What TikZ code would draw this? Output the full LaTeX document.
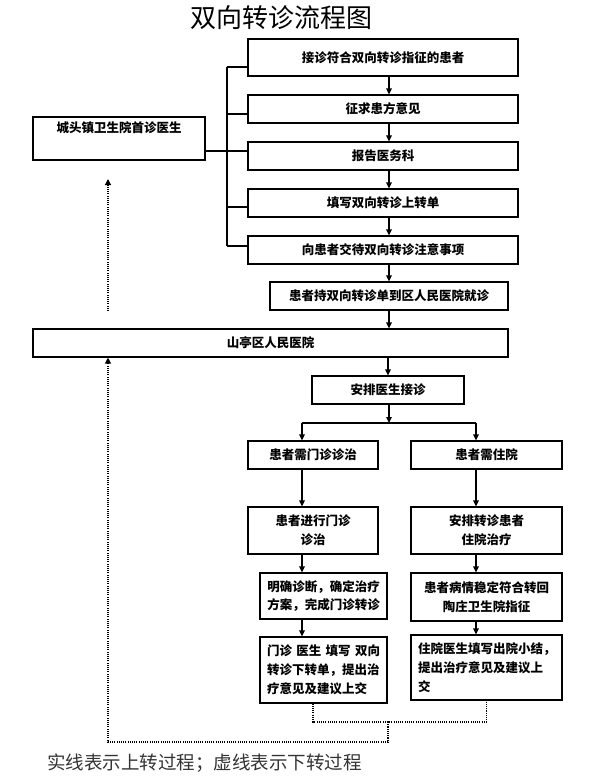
\documentclass[tikz,border=0pt]{standalone}
\usepackage{fontspec}
\setmainfont{Noto Sans CJK SC}
\usetikzlibrary{arrows.meta}
\begin{document}
\begin{tikzpicture}[x=1pt,y=-1pt,
  box/.style={draw, line width=1.1pt, inner sep=0pt, align=center,
    font=\bfseries\fontsize{12.5}{19}\selectfont},
  arr/.style={line width=1.3pt, -{Triangle[length=6pt,width=5.5pt]}},
  lnk/.style={line width=1.1pt},
  branch/.style={line width=2.3pt},
  dot/.style={line width=1.1pt, dash pattern=on 1.1pt off 1.1pt},
  dotarr/.style={dot, -{Triangle[length=6pt,width=6pt]}}]
\useasboundingbox (0,0) rectangle (595,782);
% title
\node[font=\fontsize{26}{26}\selectfont] (title) at (281,18) {双向转诊流程图};
% upper chain
\node[box, minimum width=270, minimum height=37] (b1) at (383,57.5) {接诊符合双向转诊指征的患者};
\node[box, minimum width=270, minimum height=28] (b2) at (383,109) {征求患方意见};
\node[box, minimum width=270, minimum height=28] (b3) at (383,156) {报告医务科};
\node[box, minimum width=270, minimum height=28] (b4) at (383,203) {填写双向转诊上转单};
\node[box, minimum width=270, minimum height=28] (b5) at (383,250) {向患者交待双向转诊注意事项};
\node[box, minimum width=238, minimum height=28] (b6) at (389,296) {患者持双向转诊单到区人民医院就诊};
\node[box, minimum width=475, minimum height=28] (hosp) at (270.5,343) {山亭区人民医院};
\node[box, minimum width=152, minimum height=28] (arrange) at (388,390) {安排医生接诊};
% township box
\node[box, minimum width=172, inner ysep=3pt, text height=12.5pt, text depth=24.5pt] (ctz) at (119,138.5) {城头镇卫生院首诊医生};
% two columns
\node[box, minimum width=130, minimum height=28] (L1) at (313,455) {患者需门诊诊治};
\node[box, minimum width=151, minimum height=28] (R1) at (486.5,455) {患者需住院};
\node[box, minimum width=130, minimum height=47] (L2) at (313,530.5) {患者进行门诊\\诊治};
\node[box, minimum width=151, minimum height=47] (R2) at (486.5,530.5) {安排转诊患者\\住院治疗};
\node[box, minimum width=127, minimum height=46, font=\bfseries\fontsize{12.5}{18.5}\selectfont] (L3) at (323.5,596) {明确诊断，确定治疗\\方案，完成门诊转诊};
\node[box, minimum width=151, minimum height=48] (R3) at (486.5,597) {患者病情稳定符合转回\\陶庄卫生院指征};
\node[box, minimum width=127, minimum height=66, inner xsep=7pt, text width=113pt, align=left] (L4) at (323.5,670)
  {\makebox[113pt][s]{门诊\hfill 医生\hfill 填写\hfill 双向}\\转诊下转单，提出治\\疗意见及建议上交};
\node[box, minimum width=151, minimum height=65, inner xsep=7pt, text width=137pt, align=left] (R4) at (486.5,667.5)
  {住院医生填写出院小结，\\提出治疗意见及建议上\\交};
% note
\node[font=\fontsize{18.5}{19}\selectfont, text=black!80, anchor=west, inner sep=0pt] (note) at (47,763) {实线表示上转过程；虚线表示下转过程};
% chain arrows
\draw[arr] (b1.south -| b6.center) -- (b2.north -| b6.center);
\draw[arr] (b2.south -| b6.center) -- (b3.north -| b6.center);
\draw[arr] (b3.south -| b6.center) -- (b4.north -| b6.center);
\draw[arr] (b4.south -| b6.center) -- (b5.north -| b6.center);
\draw[arr] (b5.south -| b6.center) -- (b6.north);
\draw[arr] (b6.south) -- (hosp.north -| b6.center);
\draw[arr] (hosp.south -| arrange.center) -- (arrange.north);
% bracket
\coordinate (t1) at (227,67);
\coordinate (t2) at (227,114);
\coordinate (t3) at (227,151);
\coordinate (t4) at (227,207);
\coordinate (t5) at (227,246);
\draw[lnk] (t1) -- (t5);
\draw[lnk] (t1) -- (t1 -| b1.west);
\draw[lnk] (t2) -- (t2 -| b2.west);
\draw[lnk] (t3 -| ctz.east) -- (t3 -| b3.west);
\draw[lnk] (t4) -- (t4 -| b4.west);
\draw[lnk] (t5) -- (t5 -| b5.west);
% branch
\coordinate (bm) at (389,423);
\coordinate (lc) at (302,423);
\coordinate (rc) at (476,423);
\draw[arr] (arrange.south -| bm) -- (bm);
\draw[branch] (lc) -- (rc);
\draw[arr] (lc) -- (L1.north -| lc);
\draw[arr] (rc) -- (R1.north -| rc);
\draw[arr] (L1.south -| lc) -- (L2.north -| lc);
\draw[arr] (R1.south -| rc) -- (R2.north -| rc);
\draw[arr] (L2.south -| lc) -- (L3.north -| lc);
\draw[arr] (R2.south -| rc) -- (R3.north -| rc);
\draw[arr] (L3.south -| lc) -- (L4.north -| lc);
\draw[arr] (R3.south -| rc) -- (R4.north -| rc);
% dotted return paths
\coordinate (dm) at (388,722);
\coordinate (dl) at (108,742);
\coordinate (ua) at (108,311);
\coordinate (ub) at (108,179);
\draw[dot] (L4.south -| L1.center) |- (dm) -| (R4.south);
\draw[dotarr] (dm) |- (dl) -- (hosp.south -| dl);
\draw[dotarr] (ua) -- (ub);
\end{tikzpicture}
\end{document}
